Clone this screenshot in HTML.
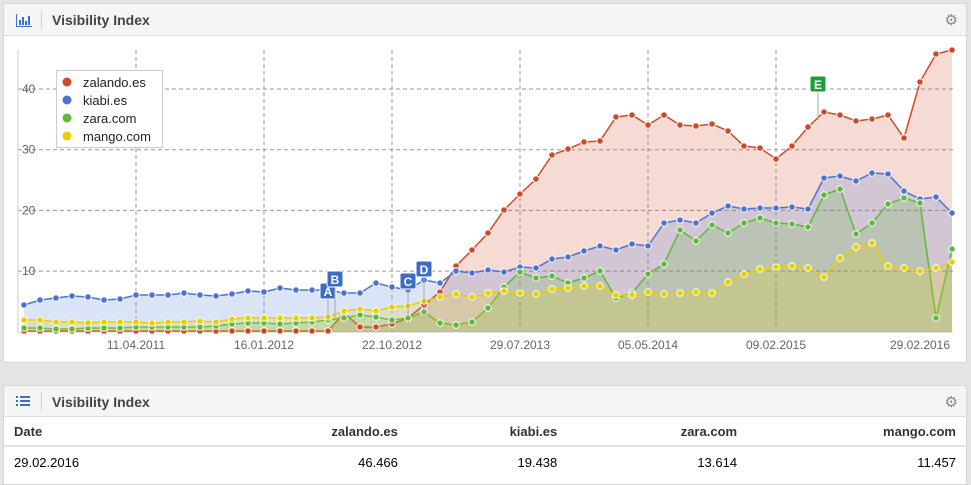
<!DOCTYPE html>
<html><head><meta charset="utf-8"><style>
body{margin:0;background:#e5e5e5;font-family:"Liberation Sans",sans-serif;width:971px;height:481px;overflow:hidden;position:relative}
.panel{position:absolute;left:3px;width:964px;background:#fff;border:1px solid #d6d6d6;box-sizing:border-box}
.hdr{height:31px;background:#f5f5f5;border-bottom:1px solid #dedede;position:relative}
.hdr .t{position:absolute;left:48px;top:8px;font-weight:bold;font-size:14px;color:#444}
.hdr .sep{position:absolute;left:37px;top:7px;width:1px;height:18px;background:#d0d0d0}
.gear{position:absolute;right:8px;top:7px;color:#888;font-size:15px}
table{border-collapse:collapse;width:100%;font-size:13px}
td{padding:0 10px;height:28px}
</style></head><body>
<div class="panel" style="top:3px;height:360px">
<div class="hdr"><svg style="position:absolute;left:12px;top:10px" width="16" height="13"><path d="M0.5 0v12.5H16" stroke="#3d6fd1" fill="none"/><rect x="3" y="6" width="2" height="5" fill="#3d6fd1"/><rect x="6" y="3" width="2" height="8" fill="#3d6fd1"/><rect x="9" y="7" width="2" height="4" fill="#3d6fd1"/><rect x="12" y="2" width="2" height="9" fill="#3d6fd1"/></svg><div class="sep"></div><div class="t">Visibility Index</div><div class="gear">⚙</div></div>
</div>
<svg id="ch" style="position:absolute;left:0;top:0" width="971" height="365" font-family="Liberation Sans" font-size="12"></svg>
<div class="panel" style="top:385px;height:100px">
<div class="hdr" style="height:30px"><svg style="position:absolute;left:12px;top:9px" width="14" height="12" fill="#3d6fd1"><rect x="0" y="1" width="2" height="2"/><rect x="4" y="1" width="10" height="2"/><rect x="0" y="5" width="2" height="2"/><rect x="4" y="5" width="10" height="2"/><rect x="0" y="9" width="2" height="2"/><rect x="4" y="9" width="10" height="2"/></svg><div class="sep"></div><div class="t">Visibility Index</div><div class="gear">⚙</div></div>
<table><tr style="font-weight:bold;color:#333;border-bottom:2px solid #e5e5e5"><td>Date</td><td align="right">zalando.es</td><td align="right">kiabi.es</td><td align="right">zara.com</td><td align="right">mango.com</td></tr>
<tr style="height:32px"><td>29.02.2016</td><td align="right">46.466</td><td align="right">19.438</td><td align="right">13.614</td><td align="right">11.457</td></tr></table>
</div>
<script>
const R=[331,331,331,331,331,331,331,331,331,331,331,331,331,331,331,331,331,331,331,331,313,327,327,324,318,305,292,266,250,233,210,194,179,155,149,142,141,117,115,125,115,125,126,124,131,146,148,159,146,127,112,115,121,119,115,138,82,54,50];
const B=[305,300,298,296,297,300,299,295,295,295,293,295,296,294,291,292,288,290,290,290,293,293,283,287,290,280,283,271,273,270,272,267,268,259,257,251,246,250,244,246,223,220,223,213,206,209,208,208,207,209,178,176,181,173,174,191,199,197,213];
const G=[328,328,329,329,328,328,328,327,327,327,327,327,326,324,323,323,324,323,322,320,318,315,317,320,318,312,323,325,322,308,287,272,278,276,283,278,271,298,293,274,264,230,241,225,233,223,218,223,224,227,195,189,234,223,204,198,203,318,249];
const Y=[320,320,322,322,323,322,322,322,323,322,322,321,322,319,318,318,318,318,318,317,311,309,311,307,306,301,297,294,297,293,291,293,294,289,288,286,286,295,295,292,294,293,292,293,282,274,269,267,266,268,277,258,247,243,266,268,271,268,262];
const s=document.getElementById('ch');let h='';
[40,30,20,10].forEach((v,i)=>{const y=89+i*60.7;h+=`<line x1="18" x2="953" y1="${y}" y2="${y}" stroke="#999" stroke-dasharray="4,3"/><text x="22" y="${y+4}" fill="#666">${v}</text>`});
[136,264,392,520,648,776].forEach(x=>h+=`<line x1="${x}" x2="${x}" y1="50" y2="332" stroke="#999" stroke-dasharray="4,3"/>`);
h+=`<line x1="18" x2="18" y1="50" y2="332" stroke="#ccc"/><line x1="18" x2="953" y1="332" y2="332" stroke="#ccc"/>`;
const d=[['11.04.2011',136],['16.01.2012',264],['22.10.2012',392],['29.07.2013',520],['05.05.2014',648],['09.02.2015',776],['29.02.2016',920]];
d.forEach(([t,x])=>h+=`<text x="${x}" y="349" fill="#666" text-anchor="middle">${t}</text>`);
const S=[[R,'#d04a27'],[B,'#4b72d6'],[G,'#5dba3a'],[Y,'#e8d000']];
S.forEach(([a,c])=>{let p=a.map((y,i)=>(24+16*i)+','+y).join(' L');h+=`<path d="M24,332 L${p} L952,332Z" fill="${c}" fill-opacity="0.2"/><path d="M${p}" stroke="${c}" stroke-width="1.5" fill="none"/>`;});
S.forEach(([a,c])=>a.forEach((y,i)=>h+=`<circle cx="${24+16*i}" cy="${y}" r="3.3" fill="${c}" stroke="#fff" stroke-width="1"/>`));
[['A',328,292,'#3b6cc8'],['B',335,280,'#3b6cc8'],['C',408,282,'#3b6cc8'],['D',424,270,'#3b6cc8'],['E',818,85,'#1f9e3a']].forEach(([t,x,y,c])=>{h+=`<line x1="${x}" x2="${x}" y1="${y}" y2="${t=='E'?120:318}" stroke="#aaa"/><rect x="${x-8}" y="${y-9}" width="16" height="16" rx="2" fill="${c}" stroke="#fff"/><text x="${x}" y="${y+4}" fill="#fff" font-weight="bold" text-anchor="middle">${t}</text>`});
h+=`<rect x="56.5" y="70.5" width="106" height="77" fill="#fff" stroke="#ccc"/>`;
[['zalando.es','#d04a27'],['kiabi.es','#4b72d6'],['zara.com','#5dba3a'],['mango.com','#e8d000']].forEach(([t,c],i)=>h+=`<circle cx="67" cy="${82+i*18}" r="4.5" fill="${c}"/><text x="83" y="${87+i*18}" font-size="13" fill="#222">${t}</text>`);
s.innerHTML=h;
</script>
</body></html>
